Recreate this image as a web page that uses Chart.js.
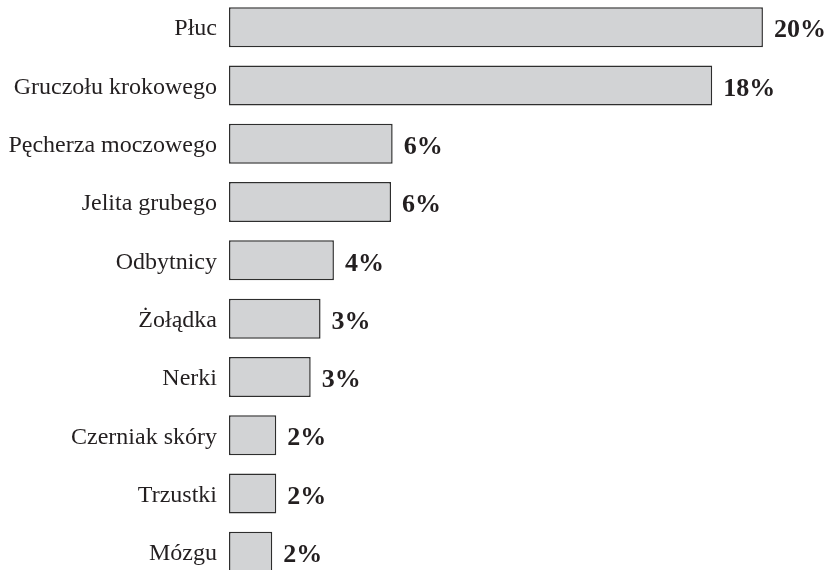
<!DOCTYPE html>
<html>
<head>
<meta charset="utf-8">
<script src="https://cdn.jsdelivr.net/npm/chart.js@4/dist/chart.umd.min.js"></script>
<style>
  html, body { margin: 0; padding: 0; background: #fff; overflow: hidden; }
  #wrap { position: absolute; left: 0; top: -2px; width: 827px; height: 583px; }
</style>
</head>
<body>
<div id="wrap"><canvas id="chart"></canvas></div>
<script>
// data
var categories = ['Płuc', 'Gruczołu krokowego', 'Pęcherza moczowego', 'Jelita grubego', 'Odbytnicy',
                  'Żołądka', 'Nerki', 'Czerniak skóry', 'Trzustki', 'Mózgu'];
var values = [20.0, 18.1, 6.13, 6.07, 3.93, 3.43, 3.06, 1.77, 1.77, 1.62];
var valueLabels = ['20%', '18%', '6%', '6%', '4%', '3%', '3%', '2%', '2%', '2%'];

var textColor = '#231f20';

// draws the bold % labels next to each bar
var valueLabelPlugin = {
  id: 'valueLabels',
  afterDatasetsDraw: function(chart) {
    var ctx = chart.ctx;
    var meta = chart.getDatasetMeta(0);
    ctx.save();
    ctx.font = 'bold 26px "Liberation Serif", "Times New Roman", serif';
    ctx.fillStyle = textColor;
    ctx.textAlign = 'left';
    ctx.textBaseline = 'middle';
    meta.data.forEach(function(bar, i) {
      ctx.fillText(valueLabels[i], bar.x + 11, bar.y + 3.5);
    });
    ctx.restore();
  }
};

new Chart(document.getElementById('chart'), {
  type: 'bar',
  data: {
    labels: categories,
    datasets: [{
      data: values,
      backgroundColor: '#d2d3d5',
      borderColor: '#2e2e2e',
      borderWidth: 1.5,
      borderSkipped: false,
      barPercentage: 0.686,
      categoryPercentage: 1
    }]
  },
  options: {
    indexAxis: 'y',
    responsive: true,
    maintainAspectRatio: false,
    animation: false,
    layout: { padding: 0 },
    plugins: {
      legend: { display: false },
      tooltip: { enabled: false }
    },
    scales: {
      x: {
        display: false,
        min: 0,
        max: 22.4
      },
      y: {
        grid: { display: false, drawTicks: false },
        border: { display: false },
        afterFit: function(scale) {
          scale.width = 229;
          // no extra room above/below for the tick labels
          scale.paddingTop = 0;
          scale.paddingBottom = 0;
        },
        ticks: {
          autoSkip: false,
          padding: 12,
          labelOffset: 2,
          color: textColor,
          font: { family: '"Liberation Serif", "Times New Roman", serif', size: 24 }
        }
      }
    }
  },
  plugins: [valueLabelPlugin]
});
</script>
</body>
</html>
